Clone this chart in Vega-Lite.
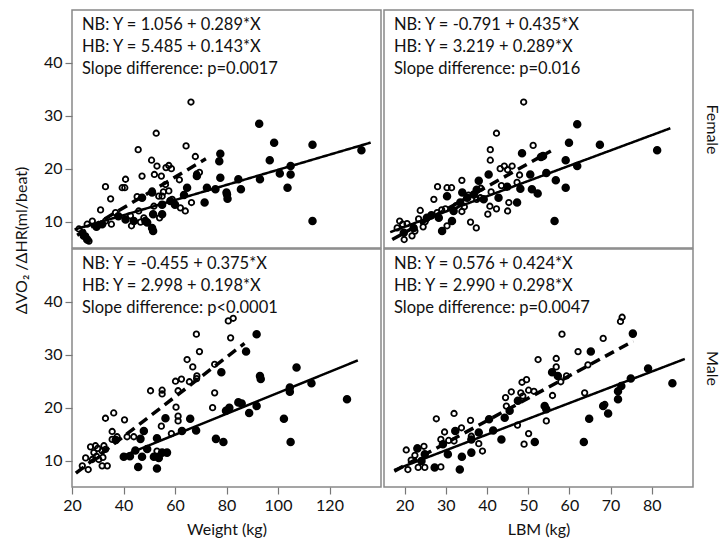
{
"$schema": "https://vega.github.io/schema/vega-lite/v6.json",
"background": "white",
"padding": {"left": 12, "top": 9, "right": 4, "bottom": 5},
"bounds": "flush",
"config": {
  "font": "Lato",
  "view": {"stroke": "#888888", "strokeWidth": 1.5},
  "axis": {"grid": false, "domain": false, "tickColor": "#777777", "tickWidth": 1.2, "labelFontSize": 16, "labelColor": "#111111", "titleFontSize": 16, "titleFontWeight": "normal", "titleColor": "#111111", "labelFlush": false}
},
"datasets": {
  "txt": [
    {"s": "F", "m": "W", "t": "NB: Y = 1.056 + 0.289*X\nHB: Y = 5.485 + 0.143*X\nSlope difference: p=0.0017"},
    {"s": "F", "m": "L", "t": "NB: Y = -0.791 + 0.435*X\nHB: Y =  3.219 + 0.289*X\nSlope difference: p=0.016"},
    {"s": "M", "m": "W", "t": "NB: Y = -0.455 + 0.375*X\nHB: Y =  2.998 + 0.198*X\nSlope difference: p<0.0001"},
    {"s": "M", "m": "L", "t": "NB: Y = 0.576 + 0.424*X\nHB: Y = 2.990 + 0.298*X\nSlope difference: p=0.0047"}
  ],
  "lns": [
    {"s": "F", "m": "W", "g": "NB", "x": 22, "y": 7.41}, {"s": "F", "m": "W", "g": "NB", "x": 72, "y": 21.86},
    {"s": "F", "m": "W", "g": "HB", "x": 21, "y": 8.49}, {"s": "F", "m": "W", "g": "HB", "x": 136, "y": 24.93},
    {"s": "F", "m": "L", "g": "NB", "x": 17, "y": 6.60}, {"s": "F", "m": "L", "g": "NB", "x": 55.5, "y": 23.35},
    {"s": "F", "m": "L", "g": "HB", "x": 16.5, "y": 7.99}, {"s": "F", "m": "L", "g": "HB", "x": 84.5, "y": 27.64},
    {"s": "M", "m": "W", "g": "NB", "x": 21.5, "y": 7.61}, {"s": "M", "m": "W", "g": "NB", "x": 87, "y": 32.17},
    {"s": "M", "m": "W", "g": "HB", "x": 39.5, "y": 10.82}, {"s": "M", "m": "W", "g": "HB", "x": 131, "y": 28.94},
    {"s": "M", "m": "L", "g": "NB", "x": 17.5, "y": 8.00}, {"s": "M", "m": "L", "g": "NB", "x": 75.5, "y": 32.59},
    {"s": "M", "m": "L", "g": "HB", "x": 17.5, "y": 8.21}, {"s": "M", "m": "L", "g": "HB", "x": 88, "y": 29.21}
  ],
  "pts": [
    {"s":"F","m":"W","g":"NB","x":66.2,"y":32.6},{"s":"F","m":"W","g":"NB","x":52.7,"y":26.7},{"s":"F","m":"W","g":"NB","x":45.7,"y":23.6},{"s":"F","m":"W","g":"NB","x":64.3,"y":24.3},{"s":"F","m":"W","g":"NB","x":67.9,"y":22.3},{"s":"F","m":"W","g":"NB","x":50.9,"y":21.6},{"s":"F","m":"W","g":"NB","x":53.0,"y":20.5},{"s":"F","m":"W","g":"NB","x":57.6,"y":20.6},{"s":"F","m":"W","g":"NB","x":58.6,"y":20.0},{"s":"F","m":"W","g":"NB","x":56.5,"y":20.2},{"s":"F","m":"W","g":"NB","x":47.2,"y":18.6},{"s":"F","m":"W","g":"NB","x":52.0,"y":18.9},{"s":"F","m":"W","g":"NB","x":54.7,"y":18.6},{"s":"F","m":"W","g":"NB","x":40.8,"y":18.0},{"s":"F","m":"W","g":"NB","x":61.7,"y":17.9},{"s":"F","m":"W","g":"NB","x":33.0,"y":16.6},{"s":"F","m":"W","g":"NB","x":39.5,"y":16.4},{"s":"F","m":"W","g":"NB","x":40.5,"y":16.4},{"s":"F","m":"W","g":"NB","x":56.3,"y":17.0},{"s":"F","m":"W","g":"NB","x":57.6,"y":15.8},{"s":"F","m":"W","g":"NB","x":35.0,"y":14.3},{"s":"F","m":"W","g":"NB","x":45.3,"y":14.7},{"s":"F","m":"W","g":"NB","x":53.7,"y":14.8},{"s":"F","m":"W","g":"NB","x":55.0,"y":14.8},{"s":"F","m":"W","g":"NB","x":51.8,"y":12.9},{"s":"F","m":"W","g":"NB","x":31.1,"y":12.2},{"s":"F","m":"W","g":"NB","x":36.9,"y":11.7},{"s":"F","m":"W","g":"NB","x":42.7,"y":11.1},{"s":"F","m":"W","g":"NB","x":66.4,"y":13.6},{"s":"F","m":"W","g":"NB","x":62.1,"y":12.6},{"s":"F","m":"W","g":"NB","x":64.0,"y":12.0},{"s":"F","m":"W","g":"NB","x":46.6,"y":9.9},{"s":"F","m":"W","g":"NB","x":47.9,"y":10.7},{"s":"F","m":"W","g":"NB","x":35.3,"y":9.5},{"s":"F","m":"W","g":"NB","x":43.1,"y":9.2},{"s":"F","m":"W","g":"NB","x":33.0,"y":10.1},{"s":"F","m":"W","g":"NB","x":27.9,"y":10.1},{"s":"F","m":"W","g":"NB","x":25.9,"y":9.5},{"s":"F","m":"W","g":"NB","x":22.7,"y":8.6},{"s":"F","m":"W","g":"NB","x":24.0,"y":7.9},{"s":"F","m":"W","g":"NB","x":26.6,"y":6.3},{"s":"F","m":"W","g":"NB","x":25.3,"y":7.3},{"s":"F","m":"W","g":"NB","x":54.0,"y":10.7},{"s":"F","m":"W","g":"NB","x":58.9,"y":14.2},{"s":"F","m":"W","g":"NB","x":51.1,"y":15.8},{"s":"F","m":"W","g":"NB","x":45.9,"y":12.0},{"s":"F","m":"W","g":"NB","x":68.4,"y":19.0},{"s":"F","m":"W","g":"NB","x":69.5,"y":19.3},{"s":"F","m":"W","g":"NB","x":55.5,"y":15.6},
    {"s":"F","m":"W","g":"HB","x":77.6,"y":22.8},{"s":"F","m":"W","g":"HB","x":77.2,"y":21.4},{"s":"F","m":"W","g":"HB","x":68.5,"y":18.6},{"s":"F","m":"W","g":"HB","x":77.6,"y":18.3},{"s":"F","m":"W","g":"HB","x":64.7,"y":16.4},{"s":"F","m":"W","g":"HB","x":72.4,"y":16.4},{"s":"F","m":"W","g":"HB","x":75.7,"y":16.1},{"s":"F","m":"W","g":"HB","x":80.2,"y":15.1},{"s":"F","m":"W","g":"HB","x":71.5,"y":13.6},{"s":"F","m":"W","g":"HB","x":58.2,"y":13.9},{"s":"F","m":"W","g":"HB","x":55.0,"y":13.2},{"s":"F","m":"W","g":"HB","x":55.0,"y":11.4},{"s":"F","m":"W","g":"HB","x":51.5,"y":11.4},{"s":"F","m":"W","g":"HB","x":48.5,"y":10.1},{"s":"F","m":"W","g":"HB","x":51.1,"y":8.8},{"s":"F","m":"W","g":"HB","x":51.5,"y":8.2},{"s":"F","m":"W","g":"HB","x":40.8,"y":10.4},{"s":"F","m":"W","g":"HB","x":44.0,"y":10.1},{"s":"F","m":"W","g":"HB","x":31.7,"y":9.5},{"s":"F","m":"W","g":"HB","x":25.9,"y":6.6},{"s":"F","m":"W","g":"HB","x":24.6,"y":7.3},{"s":"F","m":"W","g":"HB","x":47.2,"y":14.5},{"s":"F","m":"W","g":"HB","x":51.1,"y":15.5},{"s":"F","m":"W","g":"HB","x":49.2,"y":9.8},{"s":"F","m":"W","g":"HB","x":92.7,"y":28.5},{"s":"F","m":"W","g":"HB","x":98.5,"y":24.9},{"s":"F","m":"W","g":"HB","x":113.4,"y":24.5},{"s":"F","m":"W","g":"HB","x":132.4,"y":23.5},{"s":"F","m":"W","g":"HB","x":96.8,"y":21.6},{"s":"F","m":"W","g":"HB","x":104.9,"y":20.5},{"s":"F","m":"W","g":"HB","x":100.7,"y":19.1},{"s":"F","m":"W","g":"HB","x":104.9,"y":18.9},{"s":"F","m":"W","g":"HB","x":84.6,"y":18.0},{"s":"F","m":"W","g":"HB","x":93.0,"y":18.0},{"s":"F","m":"W","g":"HB","x":85.6,"y":16.1},{"s":"F","m":"W","g":"HB","x":103.7,"y":16.4},{"s":"F","m":"W","g":"HB","x":80.0,"y":15.5},{"s":"F","m":"W","g":"HB","x":80.4,"y":14.3},{"s":"F","m":"W","g":"HB","x":113.4,"y":10.1},{"s":"F","m":"W","g":"HB","x":63.5,"y":15.0},{"s":"F","m":"W","g":"HB","x":38.0,"y":11.0},{"s":"F","m":"W","g":"HB","x":29.5,"y":9.0},{"s":"F","m":"W","g":"HB","x":60.0,"y":13.2},
    {"s":"F","m":"L","g":"NB","x":48.9,"y":32.6},{"s":"F","m":"L","g":"NB","x":42.3,"y":26.7},{"s":"F","m":"L","g":"NB","x":40.8,"y":23.6},{"s":"F","m":"L","g":"NB","x":40.8,"y":21.6},{"s":"F","m":"L","g":"NB","x":51.2,"y":24.4},{"s":"F","m":"L","g":"NB","x":43.2,"y":20.0},{"s":"F","m":"L","g":"NB","x":44.2,"y":20.5},{"s":"F","m":"L","g":"NB","x":46.1,"y":20.5},{"s":"F","m":"L","g":"NB","x":47.9,"y":18.8},{"s":"F","m":"L","g":"NB","x":33.9,"y":17.8},{"s":"F","m":"L","g":"NB","x":28.0,"y":16.6},{"s":"F","m":"L","g":"NB","x":30.3,"y":16.4},{"s":"F","m":"L","g":"NB","x":31.4,"y":16.4},{"s":"F","m":"L","g":"NB","x":27.1,"y":14.2},{"s":"F","m":"L","g":"NB","x":23.8,"y":12.1},{"s":"F","m":"L","g":"NB","x":29.9,"y":12.4},{"s":"F","m":"L","g":"NB","x":33.9,"y":11.9},{"s":"F","m":"L","g":"NB","x":41.0,"y":15.6},{"s":"F","m":"L","g":"NB","x":40.7,"y":12.9},{"s":"F","m":"L","g":"NB","x":42.3,"y":12.4},{"s":"F","m":"L","g":"NB","x":40.2,"y":11.4},{"s":"F","m":"L","g":"NB","x":45.0,"y":12.0},{"s":"F","m":"L","g":"NB","x":45.3,"y":13.6},{"s":"F","m":"L","g":"NB","x":36.0,"y":9.9},{"s":"F","m":"L","g":"NB","x":37.4,"y":8.8},{"s":"F","m":"L","g":"NB","x":30.3,"y":9.2},{"s":"F","m":"L","g":"NB","x":23.4,"y":10.5},{"s":"F","m":"L","g":"NB","x":18.8,"y":10.1},{"s":"F","m":"L","g":"NB","x":20.6,"y":9.6},{"s":"F","m":"L","g":"NB","x":18.2,"y":8.8},{"s":"F","m":"L","g":"NB","x":19.9,"y":6.6},{"s":"F","m":"L","g":"NB","x":21.8,"y":7.3},{"s":"F","m":"L","g":"NB","x":26.3,"y":11.0},{"s":"F","m":"L","g":"NB","x":27.9,"y":11.7},{"s":"F","m":"L","g":"NB","x":38.4,"y":14.5},{"s":"F","m":"L","g":"NB","x":47.3,"y":17.4},{"s":"F","m":"L","g":"NB","x":45.0,"y":19.8},{"s":"F","m":"L","g":"NB","x":35.5,"y":15.0},{"s":"F","m":"L","g":"NB","x":22.5,"y":8.2},{"s":"F","m":"L","g":"NB","x":25.0,"y":10.0},{"s":"F","m":"L","g":"NB","x":32.5,"y":13.0},{"s":"F","m":"L","g":"NB","x":37.5,"y":14.2},{"s":"F","m":"L","g":"NB","x":19.5,"y":9.5},{"s":"F","m":"L","g":"NB","x":38.5,"y":16.3},{"s":"F","m":"L","g":"NB","x":43.5,"y":16.8},{"s":"F","m":"L","g":"NB","x":24.5,"y":9.0},{"s":"F","m":"L","g":"NB","x":29.0,"y":12.2},{"s":"F","m":"L","g":"NB","x":34.5,"y":12.8},
    {"s":"F","m":"L","g":"HB","x":48.5,"y":22.9},{"s":"F","m":"L","g":"HB","x":53.1,"y":22.2},{"s":"F","m":"L","g":"HB","x":50.5,"y":18.9},{"s":"F","m":"L","g":"HB","x":40.4,"y":18.9},{"s":"F","m":"L","g":"HB","x":38.0,"y":17.7},{"s":"F","m":"L","g":"HB","x":44.9,"y":16.6},{"s":"F","m":"L","g":"HB","x":48.1,"y":16.2},{"s":"F","m":"L","g":"HB","x":50.9,"y":16.1},{"s":"F","m":"L","g":"HB","x":52.3,"y":15.3},{"s":"F","m":"L","g":"HB","x":30.3,"y":14.8},{"s":"F","m":"L","g":"HB","x":47.3,"y":13.6},{"s":"F","m":"L","g":"HB","x":42.8,"y":14.5},{"s":"F","m":"L","g":"HB","x":36.8,"y":15.1},{"s":"F","m":"L","g":"HB","x":35.2,"y":14.5},{"s":"F","m":"L","g":"HB","x":29.1,"y":8.2},{"s":"F","m":"L","g":"HB","x":31.9,"y":12.0},{"s":"F","m":"L","g":"HB","x":33.5,"y":13.6},{"s":"F","m":"L","g":"HB","x":25.4,"y":10.7},{"s":"F","m":"L","g":"HB","x":28.3,"y":10.7},{"s":"F","m":"L","g":"HB","x":31.5,"y":10.1},{"s":"F","m":"L","g":"HB","x":22.2,"y":8.8},{"s":"F","m":"L","g":"HB","x":19.8,"y":7.9},{"s":"F","m":"L","g":"HB","x":39.2,"y":14.2},{"s":"F","m":"L","g":"HB","x":61.9,"y":28.4},{"s":"F","m":"L","g":"HB","x":59.9,"y":24.9},{"s":"F","m":"L","g":"HB","x":67.4,"y":24.5},{"s":"F","m":"L","g":"HB","x":81.3,"y":23.5},{"s":"F","m":"L","g":"HB","x":59.1,"y":21.6},{"s":"F","m":"L","g":"HB","x":61.9,"y":20.5},{"s":"F","m":"L","g":"HB","x":54.4,"y":19.2},{"s":"F","m":"L","g":"HB","x":56.7,"y":17.8},{"s":"F","m":"L","g":"HB","x":59.1,"y":16.4},{"s":"F","m":"L","g":"HB","x":56.4,"y":10.1},{"s":"F","m":"L","g":"HB","x":53.6,"y":22.4},{"s":"F","m":"L","g":"HB","x":34.0,"y":15.5},{"s":"F","m":"L","g":"HB","x":37.5,"y":16.0},{"s":"F","m":"L","g":"HB","x":26.5,"y":11.2},
    {"s":"M","m":"W","g":"NB","x":68.3,"y":33.9},{"s":"M","m":"W","g":"NB","x":69.5,"y":30.6},{"s":"M","m":"W","g":"NB","x":64.7,"y":29.1},{"s":"M","m":"W","g":"NB","x":66.9,"y":27.7},{"s":"M","m":"W","g":"NB","x":65.6,"y":24.9},{"s":"M","m":"W","g":"NB","x":60.2,"y":25.0},{"s":"M","m":"W","g":"NB","x":62.5,"y":25.4},{"s":"M","m":"W","g":"NB","x":68.5,"y":26.0},{"s":"M","m":"W","g":"NB","x":68.4,"y":25.5},{"s":"M","m":"W","g":"NB","x":75.4,"y":28.2},{"s":"M","m":"W","g":"NB","x":75.4,"y":22.8},{"s":"M","m":"W","g":"NB","x":74.6,"y":20.0},{"s":"M","m":"W","g":"NB","x":50.5,"y":23.2},{"s":"M","m":"W","g":"NB","x":55.0,"y":23.3},{"s":"M","m":"W","g":"NB","x":55.0,"y":22.6},{"s":"M","m":"W","g":"NB","x":61.2,"y":23.2},{"s":"M","m":"W","g":"NB","x":60.4,"y":20.1},{"s":"M","m":"W","g":"NB","x":61.2,"y":18.4},{"s":"M","m":"W","g":"NB","x":61.2,"y":17.5},{"s":"M","m":"W","g":"NB","x":54.7,"y":16.5},{"s":"M","m":"W","g":"NB","x":58.6,"y":15.1},{"s":"M","m":"W","g":"NB","x":33.0,"y":18.0},{"s":"M","m":"W","g":"NB","x":36.2,"y":19.0},{"s":"M","m":"W","g":"NB","x":40.4,"y":17.7},{"s":"M","m":"W","g":"NB","x":35.6,"y":15.5},{"s":"M","m":"W","g":"NB","x":37.5,"y":14.5},{"s":"M","m":"W","g":"NB","x":41.4,"y":14.5},{"s":"M","m":"W","g":"NB","x":44.0,"y":14.5},{"s":"M","m":"W","g":"NB","x":35.6,"y":14.0},{"s":"M","m":"W","g":"NB","x":27.2,"y":12.6},{"s":"M","m":"W","g":"NB","x":29.1,"y":12.8},{"s":"M","m":"W","g":"NB","x":32.4,"y":12.8},{"s":"M","m":"W","g":"NB","x":31.7,"y":11.8},{"s":"M","m":"W","g":"NB","x":28.5,"y":11.5},{"s":"M","m":"W","g":"NB","x":33.0,"y":12.1},{"s":"M","m":"W","g":"NB","x":25.3,"y":10.5},{"s":"M","m":"W","g":"NB","x":30.4,"y":10.2},{"s":"M","m":"W","g":"NB","x":33.7,"y":9.0},{"s":"M","m":"W","g":"NB","x":26.3,"y":8.3},{"s":"M","m":"W","g":"NB","x":31.7,"y":9.0},{"s":"M","m":"W","g":"NB","x":24.0,"y":9.0},{"s":"M","m":"W","g":"NB","x":27.9,"y":10.2},{"s":"M","m":"W","g":"NB","x":53.0,"y":11.8},{"s":"M","m":"W","g":"NB","x":80.7,"y":36.4},{"s":"M","m":"W","g":"NB","x":82.6,"y":36.9},{"s":"M","m":"W","g":"NB","x":81.6,"y":33.2},{"s":"M","m":"W","g":"NB","x":30.0,"y":12.3},{"s":"M","m":"W","g":"NB","x":29.5,"y":10.8},{"s":"M","m":"W","g":"NB","x":32.0,"y":10.6},
    {"s":"M","m":"W","g":"HB","x":78.0,"y":26.7},{"s":"M","m":"W","g":"HB","x":65.9,"y":17.9},{"s":"M","m":"W","g":"HB","x":56.3,"y":18.0},{"s":"M","m":"W","g":"HB","x":47.9,"y":15.6},{"s":"M","m":"W","g":"HB","x":46.6,"y":14.1},{"s":"M","m":"W","g":"HB","x":53.0,"y":14.2},{"s":"M","m":"W","g":"HB","x":62.7,"y":15.6},{"s":"M","m":"W","g":"HB","x":68.2,"y":15.7},{"s":"M","m":"W","g":"HB","x":75.9,"y":14.1},{"s":"M","m":"W","g":"HB","x":78.8,"y":13.5},{"s":"M","m":"W","g":"HB","x":40.1,"y":10.7},{"s":"M","m":"W","g":"HB","x":44.6,"y":11.9},{"s":"M","m":"W","g":"HB","x":47.2,"y":10.7},{"s":"M","m":"W","g":"HB","x":51.8,"y":10.7},{"s":"M","m":"W","g":"HB","x":55.0,"y":11.5},{"s":"M","m":"W","g":"HB","x":56.9,"y":11.5},{"s":"M","m":"W","g":"HB","x":45.7,"y":8.8},{"s":"M","m":"W","g":"HB","x":53.0,"y":8.5},{"s":"M","m":"W","g":"HB","x":49.2,"y":12.2},{"s":"M","m":"W","g":"HB","x":37.0,"y":13.9},{"s":"M","m":"W","g":"HB","x":53.7,"y":10.5},{"s":"M","m":"W","g":"HB","x":91.7,"y":33.9},{"s":"M","m":"W","g":"HB","x":87.6,"y":30.6},{"s":"M","m":"W","g":"HB","x":93.0,"y":26.0},{"s":"M","m":"W","g":"HB","x":93.3,"y":25.4},{"s":"M","m":"W","g":"HB","x":107.2,"y":27.6},{"s":"M","m":"W","g":"HB","x":104.6,"y":23.8},{"s":"M","m":"W","g":"HB","x":104.6,"y":23.0},{"s":"M","m":"W","g":"HB","x":113.0,"y":24.6},{"s":"M","m":"W","g":"HB","x":126.8,"y":21.6},{"s":"M","m":"W","g":"HB","x":85.9,"y":20.8},{"s":"M","m":"W","g":"HB","x":84.6,"y":21.0},{"s":"M","m":"W","g":"HB","x":91.7,"y":20.3},{"s":"M","m":"W","g":"HB","x":81.1,"y":20.0},{"s":"M","m":"W","g":"HB","x":88.8,"y":19.0},{"s":"M","m":"W","g":"HB","x":102.3,"y":17.9},{"s":"M","m":"W","g":"HB","x":104.9,"y":13.5},{"s":"M","m":"W","g":"HB","x":79.8,"y":19.4},{"s":"M","m":"W","g":"HB","x":42.5,"y":10.8},
    {"s":"M","m":"L","g":"NB","x":72.8,"y":37.1},{"s":"M","m":"L","g":"NB","x":72.4,"y":36.3},{"s":"M","m":"L","g":"NB","x":58.2,"y":33.9},{"s":"M","m":"L","g":"NB","x":68.2,"y":33.1},{"s":"M","m":"L","g":"NB","x":62.1,"y":30.6},{"s":"M","m":"L","g":"NB","x":52.4,"y":29.1},{"s":"M","m":"L","g":"NB","x":56.8,"y":29.3},{"s":"M","m":"L","g":"NB","x":56.8,"y":27.7},{"s":"M","m":"L","g":"NB","x":64.5,"y":28.1},{"s":"M","m":"L","g":"NB","x":59.3,"y":26.0},{"s":"M","m":"L","g":"NB","x":57.9,"y":24.9},{"s":"M","m":"L","g":"NB","x":48.5,"y":24.8},{"s":"M","m":"L","g":"NB","x":49.6,"y":25.3},{"s":"M","m":"L","g":"NB","x":45.9,"y":23.0},{"s":"M","m":"L","g":"NB","x":44.5,"y":21.9},{"s":"M","m":"L","g":"NB","x":48.2,"y":22.8},{"s":"M","m":"L","g":"NB","x":50.1,"y":23.3},{"s":"M","m":"L","g":"NB","x":51.4,"y":23.1},{"s":"M","m":"L","g":"NB","x":48.7,"y":22.2},{"s":"M","m":"L","g":"NB","x":55.9,"y":22.3},{"s":"M","m":"L","g":"NB","x":63.7,"y":22.8},{"s":"M","m":"L","g":"NB","x":68.6,"y":20.6},{"s":"M","m":"L","g":"NB","x":54.4,"y":17.5},{"s":"M","m":"L","g":"NB","x":47.4,"y":16.7},{"s":"M","m":"L","g":"NB","x":50.1,"y":15.1},{"s":"M","m":"L","g":"NB","x":49.0,"y":13.1},{"s":"M","m":"L","g":"NB","x":38.9,"y":11.8},{"s":"M","m":"L","g":"NB","x":38.0,"y":13.2},{"s":"M","m":"L","g":"NB","x":36.0,"y":17.6},{"s":"M","m":"L","g":"NB","x":32.0,"y":18.9},{"s":"M","m":"L","g":"NB","x":27.7,"y":17.9},{"s":"M","m":"L","g":"NB","x":29.7,"y":15.4},{"s":"M","m":"L","g":"NB","x":28.8,"y":14.0},{"s":"M","m":"L","g":"NB","x":30.7,"y":13.8},{"s":"M","m":"L","g":"NB","x":32.0,"y":13.7},{"s":"M","m":"L","g":"NB","x":20.4,"y":12.0},{"s":"M","m":"L","g":"NB","x":21.6,"y":10.1},{"s":"M","m":"L","g":"NB","x":23.1,"y":12.4},{"s":"M","m":"L","g":"NB","x":24.7,"y":12.7},{"s":"M","m":"L","g":"NB","x":23.3,"y":8.7},{"s":"M","m":"L","g":"NB","x":24.9,"y":8.7},{"s":"M","m":"L","g":"NB","x":20.8,"y":8.3},{"s":"M","m":"L","g":"NB","x":28.8,"y":8.8},{"s":"M","m":"L","g":"NB","x":33.8,"y":16.2},{"s":"M","m":"L","g":"NB","x":36.2,"y":14.6},{"s":"M","m":"L","g":"NB","x":44.7,"y":20.3},{"s":"M","m":"L","g":"NB","x":22.5,"y":11.0},
    {"s":"M","m":"L","g":"HB","x":75.4,"y":34.0},{"s":"M","m":"L","g":"HB","x":65.2,"y":30.6},{"s":"M","m":"L","g":"HB","x":55.8,"y":26.7},{"s":"M","m":"L","g":"HB","x":57.2,"y":26.0},{"s":"M","m":"L","g":"HB","x":79.1,"y":27.4},{"s":"M","m":"L","g":"HB","x":74.9,"y":25.5},{"s":"M","m":"L","g":"HB","x":72.6,"y":24.1},{"s":"M","m":"L","g":"HB","x":71.8,"y":23.1},{"s":"M","m":"L","g":"HB","x":71.8,"y":21.6},{"s":"M","m":"L","g":"HB","x":85.0,"y":24.6},{"s":"M","m":"L","g":"HB","x":68.2,"y":20.3},{"s":"M","m":"L","g":"HB","x":69.4,"y":18.9},{"s":"M","m":"L","g":"HB","x":64.8,"y":17.9},{"s":"M","m":"L","g":"HB","x":63.5,"y":13.5},{"s":"M","m":"L","g":"HB","x":54.0,"y":20.3},{"s":"M","m":"L","g":"HB","x":54.4,"y":19.7},{"s":"M","m":"L","g":"HB","x":47.5,"y":21.3},{"s":"M","m":"L","g":"HB","x":45.5,"y":19.4},{"s":"M","m":"L","g":"HB","x":44.3,"y":18.1},{"s":"M","m":"L","g":"HB","x":43.5,"y":14.0},{"s":"M","m":"L","g":"HB","x":51.6,"y":13.5},{"s":"M","m":"L","g":"HB","x":40.5,"y":17.8},{"s":"M","m":"L","g":"HB","x":41.5,"y":15.7},{"s":"M","m":"L","g":"HB","x":38.0,"y":15.3},{"s":"M","m":"L","g":"HB","x":36.2,"y":14.0},{"s":"M","m":"L","g":"HB","x":36.2,"y":11.5},{"s":"M","m":"L","g":"HB","x":33.9,"y":10.7},{"s":"M","m":"L","g":"HB","x":32.3,"y":15.6},{"s":"M","m":"L","g":"HB","x":30.5,"y":11.2},{"s":"M","m":"L","g":"HB","x":29.3,"y":13.1},{"s":"M","m":"L","g":"HB","x":27.3,"y":8.7},{"s":"M","m":"L","g":"HB","x":33.4,"y":8.3},{"s":"M","m":"L","g":"HB","x":23.1,"y":12.3},{"s":"M","m":"L","g":"HB","x":24.9,"y":11.2},{"s":"M","m":"L","g":"HB","x":24.1,"y":9.9}
  ]
},
"columns": 2,
"spacing": {"row": 1, "column": 3},
"concat": [
  {
    "width": 309, "height": 238,
    "layer": [
      {"data": {"name": "pts"}, "transform": [{"filter": "datum.s === 'F' && datum.m === 'W'"}],
       "mark": {"type": "point", "shape": "circle", "filled": true, "stroke": "black", "strokeWidth": 1.8, "opacity": 1},
       "encoding": {
         "x": {"field": "x", "type": "quantitative", "scale": {"domain": [20, 140], "nice": false, "zero": false}, "axis": null},
         "y": {"field": "y", "type": "quantitative", "scale": {"domain": [5, 50], "nice": false, "zero": false},
               "axis": {"title": "ΔVO₂ /ΔHR(ml/beat)", "values": [10, 15, 20, 25, 30, 35, 40, 45], "labelExpr": "datum.value % 10 === 0 ? datum.label : ''", "labelOverlap": false, "tickSize": {"condition": {"test": "datum.value % 10 === 0", "value": 7}, "value": 4}, "labelPadding": 3, "titlePadding": 14, "titleY": 230}},
         "fill": {"field": "g", "type": "nominal", "scale": {"domain": ["NB", "HB"], "range": ["transparent", "black"]}, "legend": null},
         "size": {"field": "g", "type": "nominal", "scale": {"domain": ["NB", "HB"], "range": [30, 45]}, "legend": null}}},
      {"data": {"name": "lns"}, "transform": [{"filter": "datum.s === 'F' && datum.m === 'W'"}],
       "mark": {"type": "line", "color": "black"},
       "encoding": {
         "x": {"field": "x", "type": "quantitative", "axis": null},
         "y": {"field": "y", "type": "quantitative",
               "axis": {"title": "ΔVO₂ /ΔHR(ml/beat)", "values": [10, 15, 20, 25, 30, 35, 40, 45], "labelExpr": "datum.value % 10 === 0 ? datum.label : ''", "labelOverlap": false, "tickSize": {"condition": {"test": "datum.value % 10 === 0", "value": 7}, "value": 4}, "labelPadding": 3, "titlePadding": 14, "titleY": 230}},
         "detail": {"field": "g"},
         "strokeDash": {"field": "g", "type": "nominal", "scale": {"domain": ["NB", "HB"], "range": [[10, 6], [1, 0]]}, "legend": null},
         "strokeWidth": {"field": "g", "type": "nominal", "scale": {"domain": ["NB", "HB"], "range": [3.5, 2.5]}, "legend": null}}},
      {"data": {"name": "txt"}, "transform": [{"filter": "datum.s === 'F' && datum.m === 'W'"}],
       "mark": {"type": "text", "align": "left", "baseline": "top", "dx": 10, "dy": 7, "lineBreak": "\n", "lineHeight": 22, "fontSize": 16.5, "color": "#111111"},
       "encoding": {"text": {"field": "t", "type": "nominal"}, "x": {"datum": 20}, "y": {"datum": 50}}}
    ]
  },
  {
    "width": 309, "height": 238,
    "layer": [
      {"data": {"name": "pts"}, "transform": [{"filter": "datum.s === 'F' && datum.m === 'L'"}],
       "mark": {"type": "point", "shape": "circle", "filled": true, "stroke": "black", "strokeWidth": 1.8, "opacity": 1},
       "encoding": {
         "x": {"field": "x", "type": "quantitative", "scale": {"domain": [15, 90], "nice": false, "zero": false}, "axis": null},
         "y": {"field": "y", "type": "quantitative", "scale": {"domain": [5, 50], "nice": false, "zero": false},
               "axis": {"orient": "right", "title": "Female", "labels": false, "ticks": false, "titlePadding": 10}},
         "fill": {"field": "g", "type": "nominal", "scale": {"domain": ["NB", "HB"], "range": ["transparent", "black"]}, "legend": null},
         "size": {"field": "g", "type": "nominal", "scale": {"domain": ["NB", "HB"], "range": [30, 45]}, "legend": null}}},
      {"data": {"name": "lns"}, "transform": [{"filter": "datum.s === 'F' && datum.m === 'L'"}],
       "mark": {"type": "line", "color": "black"},
       "encoding": {
         "x": {"field": "x", "type": "quantitative", "axis": null},
         "y": {"field": "y", "type": "quantitative",
               "axis": {"orient": "right", "title": "Female", "labels": false, "ticks": false, "titlePadding": 10}},
         "detail": {"field": "g"},
         "strokeDash": {"field": "g", "type": "nominal", "scale": {"domain": ["NB", "HB"], "range": [[10, 6], [1, 0]]}, "legend": null},
         "strokeWidth": {"field": "g", "type": "nominal", "scale": {"domain": ["NB", "HB"], "range": [3.5, 2.5]}, "legend": null}}},
      {"data": {"name": "txt"}, "transform": [{"filter": "datum.s === 'F' && datum.m === 'L'"}],
       "mark": {"type": "text", "align": "left", "baseline": "top", "dx": 10, "dy": 7, "lineBreak": "\n", "lineHeight": 22, "fontSize": 16.5, "color": "#111111"},
       "encoding": {"text": {"field": "t", "type": "nominal"}, "x": {"datum": 15}, "y": {"datum": 50}}}
    ]
  },
  {
    "width": 309, "height": 238,
    "layer": [
      {"data": {"name": "pts"}, "transform": [{"filter": "datum.s === 'M' && datum.m === 'W'"}],
       "mark": {"type": "point", "shape": "circle", "filled": true, "stroke": "black", "strokeWidth": 1.8, "opacity": 1},
       "encoding": {
         "x": {"field": "x", "type": "quantitative", "scale": {"domain": [20, 140], "nice": false, "zero": false},
               "axis": {"title": "Weight (kg)", "values": [20, 30, 40, 50, 60, 70, 80, 90, 100, 110, 120, 130], "labelExpr": "datum.value % 20 === 0 ? datum.label : ''", "labelOverlap": false, "tickSize": {"condition": {"test": "datum.value % 20 === 0", "value": 7}, "value": 4}, "labelPadding": 3, "titlePadding": 8}},
         "y": {"field": "y", "type": "quantitative", "scale": {"domain": [5, 50], "nice": false, "zero": false},
               "axis": {"title": null, "values": [10, 15, 20, 25, 30, 35, 40, 45], "labelExpr": "datum.value % 10 === 0 ? datum.label : ''", "labelOverlap": false, "tickSize": {"condition": {"test": "datum.value % 10 === 0", "value": 7}, "value": 4}, "labelPadding": 3}},
         "fill": {"field": "g", "type": "nominal", "scale": {"domain": ["NB", "HB"], "range": ["transparent", "black"]}, "legend": null},
         "size": {"field": "g", "type": "nominal", "scale": {"domain": ["NB", "HB"], "range": [30, 45]}, "legend": null}}},
      {"data": {"name": "lns"}, "transform": [{"filter": "datum.s === 'M' && datum.m === 'W'"}],
       "mark": {"type": "line", "color": "black"},
       "encoding": {
         "x": {"field": "x", "type": "quantitative",
               "axis": {"title": "Weight (kg)", "values": [20, 30, 40, 50, 60, 70, 80, 90, 100, 110, 120, 130], "labelExpr": "datum.value % 20 === 0 ? datum.label : ''", "labelOverlap": false, "tickSize": {"condition": {"test": "datum.value % 20 === 0", "value": 7}, "value": 4}, "labelPadding": 3, "titlePadding": 8}},
         "y": {"field": "y", "type": "quantitative",
               "axis": {"title": null, "values": [10, 15, 20, 25, 30, 35, 40, 45], "labelExpr": "datum.value % 10 === 0 ? datum.label : ''", "labelOverlap": false, "tickSize": {"condition": {"test": "datum.value % 10 === 0", "value": 7}, "value": 4}, "labelPadding": 3}},
         "detail": {"field": "g"},
         "strokeDash": {"field": "g", "type": "nominal", "scale": {"domain": ["NB", "HB"], "range": [[10, 6], [1, 0]]}, "legend": null},
         "strokeWidth": {"field": "g", "type": "nominal", "scale": {"domain": ["NB", "HB"], "range": [3.5, 2.5]}, "legend": null}}},
      {"data": {"name": "txt"}, "transform": [{"filter": "datum.s === 'M' && datum.m === 'W'"}],
       "mark": {"type": "text", "align": "left", "baseline": "top", "dx": 10, "dy": 7, "lineBreak": "\n", "lineHeight": 22, "fontSize": 16.5, "color": "#111111"},
       "encoding": {"text": {"field": "t", "type": "nominal"}, "x": {"datum": 20}, "y": {"datum": 50}}}
    ]
  },
  {
    "width": 309, "height": 238,
    "layer": [
      {"data": {"name": "pts"}, "transform": [{"filter": "datum.s === 'M' && datum.m === 'L'"}],
       "mark": {"type": "point", "shape": "circle", "filled": true, "stroke": "black", "strokeWidth": 1.8, "opacity": 1},
       "encoding": {
         "x": {"field": "x", "type": "quantitative", "scale": {"domain": [15, 90], "nice": false, "zero": false},
               "axis": {"title": "LBM (kg)", "values": [20, 30, 40, 50, 60, 70, 80], "labels": true, "tickSize": 7, "labelPadding": 3, "titlePadding": 8}},
         "y": {"field": "y", "type": "quantitative", "scale": {"domain": [5, 50], "nice": false, "zero": false},
               "axis": {"orient": "right", "title": "Male", "labels": false, "ticks": false, "titlePadding": 10}},
         "fill": {"field": "g", "type": "nominal", "scale": {"domain": ["NB", "HB"], "range": ["transparent", "black"]}, "legend": null},
         "size": {"field": "g", "type": "nominal", "scale": {"domain": ["NB", "HB"], "range": [30, 45]}, "legend": null}}},
      {"data": {"name": "lns"}, "transform": [{"filter": "datum.s === 'M' && datum.m === 'L'"}],
       "mark": {"type": "line", "color": "black"},
       "encoding": {
         "x": {"field": "x", "type": "quantitative",
               "axis": {"title": "LBM (kg)", "values": [20, 30, 40, 50, 60, 70, 80], "labels": true, "tickSize": 7, "labelPadding": 3, "titlePadding": 8}},
         "y": {"field": "y", "type": "quantitative",
               "axis": {"orient": "right", "title": "Male", "labels": false, "ticks": false, "titlePadding": 10}},
         "detail": {"field": "g"},
         "strokeDash": {"field": "g", "type": "nominal", "scale": {"domain": ["NB", "HB"], "range": [[10, 6], [1, 0]]}, "legend": null},
         "strokeWidth": {"field": "g", "type": "nominal", "scale": {"domain": ["NB", "HB"], "range": [3.5, 2.5]}, "legend": null}}},
      {"data": {"name": "txt"}, "transform": [{"filter": "datum.s === 'M' && datum.m === 'L'"}],
       "mark": {"type": "text", "align": "left", "baseline": "top", "dx": 10, "dy": 7, "lineBreak": "\n", "lineHeight": 22, "fontSize": 16.5, "color": "#111111"},
       "encoding": {"text": {"field": "t", "type": "nominal"}, "x": {"datum": 15}, "y": {"datum": 50}}}
    ]
  }
]
}
